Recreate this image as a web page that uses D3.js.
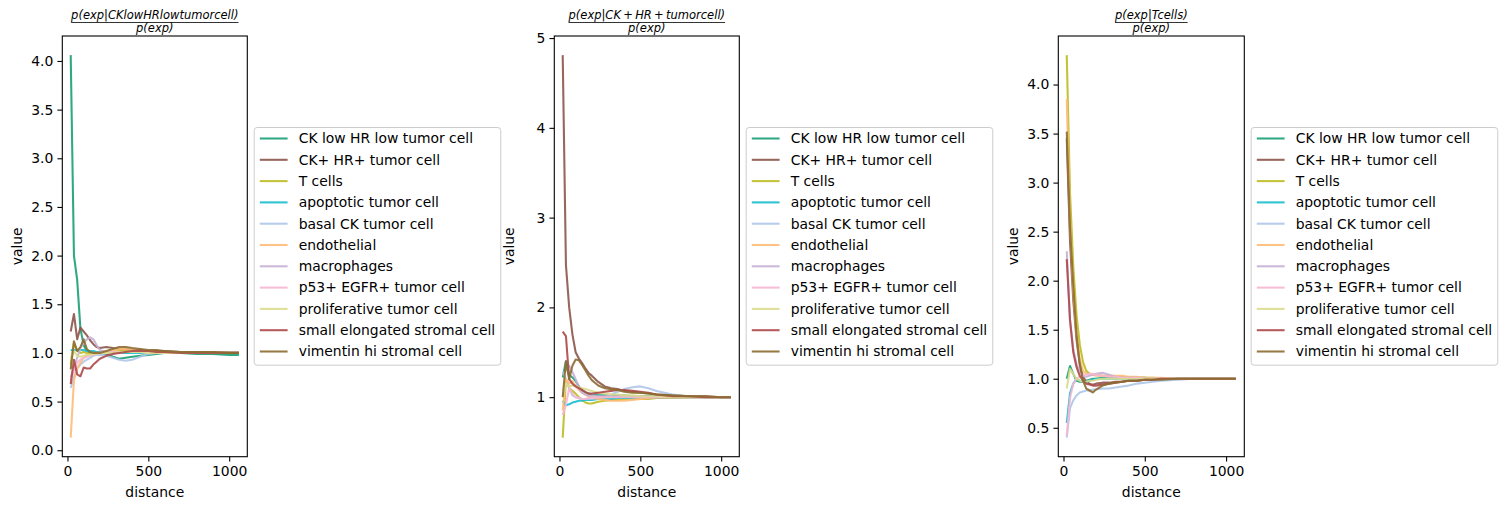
<!DOCTYPE html>
<html>
<head>
<meta charset="utf-8">
<script src="https://cdn.jsdelivr.net/npm/d3@7"></script>
<style>
  body { margin: 0; background: #fff; }
  svg { display: block; font-family: "DejaVu Sans", sans-serif; }
</style>
</head>
<body>
<svg id="chart" width="1511" height="511"></svg>
<script>
// distances shared by every curve
const distances = [20, 40, 60, 80, 100, 120, 140, 160, 180, 200, 240, 280, 320, 360, 400, 450, 500, 550, 600, 700, 800, 900, 1000, 1060];

const cellTypes = ['CK low HR low tumor cell', 'CK+ HR+ tumor cell', 'T cells', 'apoptotic tumor cell',
  'basal CK tumor cell', 'endothelial', 'macrophages', 'p53+ EGFR+ tumor cell',
  'proliferative tumor cell', 'small elongated stromal cell', 'vimentin hi stromal cell'];
const cellColors = ['#1b9e77', '#8c564b', '#bcbd22', '#17becf', '#aec7e8', '#ffbb78',
  '#c5b0d5', '#f7b6d2', '#dbdb8d', '#ad494a', '#8c6d31'];

// panel 1: p(exp | CK low HR low tumor cell) / p(exp)
const ckLowValues = [
  [4.06, 2.00, 1.75, 1.25, 1.08, 1.02, 1.00, 0.99, 1.00, 1.00, 0.99, 0.96, 0.94, 0.95, 0.96, 0.97, 0.98, 0.99, 1.00, 1.00, 0.99, 0.99, 0.98, 0.98],
  [1.22, 1.40, 1.14, 1.26, 1.22, 1.18, 1.13, 1.09, 1.06, 1.05, 1.06, 1.05, 1.04, 1.04, 1.03, 1.03, 1.02, 1.02, 1.02, 1.01, 1.01, 1.01, 1.00, 1.00],
  [0.88, 1.10, 1.02, 1.00, 1.01, 1.00, 0.99, 0.99, 1.00, 1.00, 1.01, 1.01, 1.02, 1.02, 1.02, 1.01, 1.01, 1.01, 1.00, 1.00, 1.00, 1.00, 1.00, 1.00],
  [1.03, 1.03, 1.03, 1.03, 1.03, 1.02, 1.02, 1.02, 1.01, 1.01, 1.00, 1.00, 1.00, 1.00, 1.00, 1.00, 1.00, 1.00, 1.00, 1.00, 1.00, 1.00, 1.00, 1.00],
  [0.64, 0.75, 0.84, 0.88, 0.91, 0.93, 0.95, 0.97, 0.98, 0.98, 0.97, 0.95, 0.93, 0.92, 0.93, 0.96, 0.99, 1.00, 1.00, 1.00, 1.00, 1.00, 1.00, 1.00],
  [0.13, 0.72, 0.84, 0.90, 0.95, 0.97, 0.98, 0.99, 1.00, 1.00, 1.01, 1.02, 1.04, 1.04, 1.03, 1.02, 1.02, 1.01, 1.01, 1.00, 1.00, 1.00, 1.00, 1.00],
  [0.75, 0.85, 0.95, 1.05, 1.10, 1.14, 1.16, 1.14, 1.08, 1.03, 1.01, 1.00, 1.00, 1.01, 1.01, 1.01, 1.01, 1.00, 1.00, 1.00, 1.00, 1.00, 1.00, 1.00],
  [0.72, 0.82, 0.90, 0.93, 0.95, 0.96, 0.97, 0.98, 0.99, 1.00, 1.00, 1.01, 1.01, 1.01, 1.01, 1.01, 1.00, 1.00, 1.00, 1.00, 1.00, 1.00, 1.00, 1.00],
  [0.95, 1.02, 0.97, 0.96, 0.97, 0.98, 0.98, 0.99, 0.99, 1.00, 1.00, 1.00, 1.01, 1.01, 1.01, 1.01, 1.00, 1.00, 1.00, 1.00, 1.00, 1.00, 1.00, 1.00],
  [0.68, 0.93, 0.78, 0.76, 0.85, 0.84, 0.84, 0.88, 0.91, 0.94, 0.97, 0.99, 1.00, 1.01, 1.02, 1.02, 1.02, 1.01, 1.01, 1.00, 1.00, 1.00, 1.00, 1.00],
  [0.83, 1.12, 1.02, 1.06, 1.14, 1.04, 1.01, 1.00, 1.00, 1.00, 1.02, 1.04, 1.06, 1.06, 1.05, 1.04, 1.03, 1.03, 1.02, 1.01, 1.01, 1.01, 1.00, 1.00]
];

// panel 2: p(exp | CK+ HR+ tumor cell) / p(exp)
const ckHrValues = [
  [1.22, 1.40, 1.25, 1.22, 1.18, 1.12, 1.07, 1.05, 1.04, 1.03, 1.02, 1.02, 1.02, 1.02, 1.02, 1.01, 1.01, 1.01, 1.01, 1.00, 1.00, 1.00, 1.00, 1.00],
  [4.81, 2.47, 2.00, 1.70, 1.50, 1.43, 1.38, 1.32, 1.27, 1.24, 1.17, 1.12, 1.10, 1.09, 1.07, 1.06, 1.05, 1.04, 1.03, 1.02, 1.01, 1.01, 1.00, 1.00],
  [0.55, 1.20, 1.10, 1.07, 1.04, 1.00, 0.97, 0.94, 0.93, 0.93, 0.95, 0.96, 0.97, 0.97, 0.98, 0.98, 0.98, 0.98, 0.99, 0.99, 1.00, 1.00, 1.00, 1.00],
  [0.96, 0.91, 0.92, 0.94, 0.95, 0.96, 0.96, 0.97, 0.97, 0.97, 0.98, 0.98, 0.98, 0.99, 0.99, 0.99, 1.00, 1.00, 1.00, 1.00, 1.00, 1.00, 1.00, 1.00],
  [1.28, 1.20, 1.10, 1.02, 1.00, 0.99, 0.98, 0.98, 0.98, 0.98, 0.99, 1.00, 1.03, 1.06, 1.09, 1.11, 1.12, 1.10, 1.07, 1.03, 1.01, 1.00, 1.00, 1.00],
  [0.85, 1.20, 1.15, 1.18, 1.12, 1.08, 1.05, 1.03, 1.01, 1.00, 0.98, 0.97, 0.96, 0.96, 0.96, 0.97, 0.98, 0.99, 1.00, 1.00, 1.00, 1.00, 1.00, 1.00],
  [1.25, 1.30, 1.35, 1.28, 1.20, 1.10, 1.05, 1.03, 1.02, 1.02, 1.01, 1.01, 1.01, 1.01, 1.01, 1.01, 1.01, 1.00, 1.00, 1.00, 1.00, 1.00, 1.00, 1.00],
  [0.80, 0.92, 1.10, 1.04, 1.00, 0.99, 0.98, 0.98, 0.99, 0.99, 1.00, 1.00, 1.00, 1.00, 1.00, 1.00, 1.00, 1.00, 1.00, 1.00, 1.00, 1.00, 1.00, 1.00],
  [1.00, 1.15, 1.12, 1.13, 1.12, 1.11, 1.10, 1.09, 1.08, 1.07, 1.05, 1.04, 1.03, 1.03, 1.02, 1.02, 1.01, 1.01, 1.01, 1.00, 1.00, 1.00, 1.00, 1.00],
  [1.73, 1.68, 1.20, 1.15, 1.12, 1.10, 1.08, 1.06, 1.04, 1.04, 1.05, 1.06, 1.07, 1.08, 1.08, 1.07, 1.06, 1.05, 1.03, 1.01, 1.01, 1.00, 1.00, 1.00],
  [1.00, 1.40, 1.20, 1.35, 1.42, 1.41, 1.36, 1.30, 1.24, 1.19, 1.13, 1.10, 1.09, 1.08, 1.06, 1.05, 1.05, 1.04, 1.03, 1.02, 1.01, 1.01, 1.00, 1.00]
];

// panel 3: p(exp | T cells) / p(exp)
const tCellValues = [
  [1.00, 1.13, 1.05, 0.98, 0.97, 0.97, 0.98, 0.99, 1.00, 1.00, 1.01, 1.01, 1.01, 1.01, 1.01, 1.01, 1.01, 1.00, 1.00, 1.00, 1.00, 1.00, 1.00, 1.00],
  [3.45, 2.40, 1.80, 1.40, 1.15, 1.02, 0.97, 0.95, 0.94, 0.95, 0.96, 0.96, 0.97, 0.97, 0.98, 0.98, 0.99, 0.99, 0.99, 1.00, 1.00, 1.00, 1.00, 1.00],
  [4.30, 2.90, 2.15, 1.65, 1.35, 1.17, 1.08, 1.05, 1.04, 1.04, 1.03, 1.03, 1.02, 1.02, 1.01, 1.01, 1.01, 1.01, 1.00, 1.00, 1.00, 1.00, 1.00, 1.00],
  [0.55, 0.85, 0.95, 1.00, 0.98, 0.97, 0.97, 0.98, 0.99, 1.00, 1.00, 1.00, 1.00, 1.00, 1.00, 1.00, 1.00, 1.00, 1.00, 1.00, 1.00, 1.00, 1.00, 1.00],
  [0.40, 0.70, 0.78, 0.83, 0.86, 0.87, 0.88, 0.88, 0.89, 0.89, 0.90, 0.90, 0.91, 0.92, 0.93, 0.95, 0.96, 0.97, 0.98, 0.99, 1.00, 1.00, 1.00, 1.00],
  [3.85, 2.60, 1.90, 1.45, 1.20, 1.08, 1.05, 1.04, 1.04, 1.03, 1.03, 1.03, 1.03, 1.03, 1.02, 1.02, 1.01, 1.01, 1.01, 1.00, 1.00, 1.00, 1.00, 1.00],
  [2.30, 1.60, 1.30, 1.15, 1.08, 1.03, 1.02, 1.03, 1.04, 1.05, 1.06, 1.04, 1.02, 1.01, 1.01, 1.01, 1.00, 1.00, 1.00, 1.00, 1.00, 1.00, 1.00, 1.00],
  [0.42, 0.80, 0.95, 1.00, 1.02, 1.03, 1.04, 1.05, 1.05, 1.04, 1.03, 1.02, 1.02, 1.01, 1.01, 1.01, 1.00, 1.00, 1.00, 1.00, 1.00, 1.00, 1.00, 1.00],
  [0.90, 1.10, 1.05, 1.00, 0.98, 0.97, 0.97, 0.98, 0.98, 0.99, 1.00, 1.00, 1.00, 1.00, 1.00, 1.00, 1.00, 1.00, 1.00, 1.00, 1.00, 1.00, 1.00, 1.00],
  [2.22, 1.60, 1.27, 1.12, 1.03, 0.98, 0.95, 0.94, 0.93, 0.93, 0.94, 0.95, 0.96, 0.97, 0.98, 0.98, 0.99, 0.99, 1.00, 1.00, 1.00, 1.00, 1.00, 1.00],
  [3.52, 2.55, 1.95, 1.45, 1.15, 0.98, 0.90, 0.88, 0.86, 0.89, 0.93, 0.95, 0.96, 0.97, 0.98, 0.98, 0.99, 0.99, 0.99, 1.00, 1.00, 1.00, 1.00, 1.00]
];

const xTicks = [0, 500, 1000];
const yTicks1 = [0, 0.5, 1, 1.5, 2, 2.5, 3, 3.5, 4];
const yTicks2 = [1, 2, 3, 4, 5];
const yTicks3 = [0.5, 1, 1.5, 2, 2.5, 3, 3.5, 4];

const panels = [
  { num: 'p(exp|CKlowHRlowtumorcell)', values: ckLowValues, yTicks: yTicks1, fmt: '.1f', left: 62.3, right: 247.3 },
  { num: 'p(exp|CK\u2009+\u2009HR\u2009+\u2009tumorcell)', values: ckHrValues, yTicks: yTicks2, fmt: 'd', left: 554.3, right: 739.3 },
  { num: 'p(exp|Tcells)', values: tCellValues, yTicks: yTicks3, fmt: '.1f', left: 1058.3, right: 1244.3 }
];

const plotTop = 36, plotBottom = 456.7;
const fs = 13.9;
const svg = d3.select('#chart');

function pad(ext) {
  const d = (ext[1] - ext[0]) * 0.05;
  return [ext[0] - d, ext[1] + d];
}

panels.forEach(p => {
  const x = d3.scaleLinear().domain(pad(d3.extent(distances))).range([p.left, p.right]);
  const allVals = p.values.flat();
  const y = d3.scaleLinear().domain(pad(d3.extent(allVals))).range([plotBottom, plotTop]);

  const g = svg.append('g');

  // lines
  const line = d3.line().x((d, i) => x(distances[i])).y(d => y(d));
  g.append('g').selectAll('path')
    .data(p.values)
    .enter()
    .append('path')
    .attr('d', line)
    .attr('fill', 'none')
    .attr('stroke', (d, i) => cellColors[i])
    .attr('stroke-width', 2.08)
    .attr('stroke-opacity', 0.9)
    .attr('stroke-linejoin', 'round');

  // axes
  const xAxis = d3.axisBottom(x).tickValues(xTicks).tickSize(4.86).tickPadding(4.2).tickFormat(d3.format('d'));
  const yAxis = d3.axisLeft(y).tickValues(p.yTicks).tickSize(4.86).tickPadding(4.2).tickFormat(d3.format(p.fmt));
  const gx = g.append('g').attr('transform', `translate(0,${plotBottom})`).call(xAxis);
  const gy = g.append('g').attr('transform', `translate(${p.left},0)`).call(yAxis);
  [gx, gy].forEach(a => {
    a.select('.domain').remove();
    a.selectAll('line').attr('stroke', '#000').attr('stroke-width', 1.1);
    a.selectAll('text').attr('font-size', fs).attr('fill', '#000').attr('font-family', '"DejaVu Sans", sans-serif');
  });

  // frame
  g.append('rect')
    .attr('x', p.left).attr('y', plotTop)
    .attr('width', p.right - p.left).attr('height', plotBottom - plotTop)
    .attr('fill', 'none').attr('stroke', '#000').attr('stroke-width', 1.1);

  // labels
  const cx = (p.left + p.right) / 2;
  g.append('text').attr('x', cx).attr('y', 497).attr('text-anchor', 'middle')
    .attr('font-size', fs).text('distance');
  g.append('text')
    .attr('transform', `translate(${p.left - 45},${(plotTop + plotBottom) / 2}) rotate(-90)`)
    .attr('text-anchor', 'middle').attr('dy', '0.35em')
    .attr('font-size', fs).text('value');

  // fraction title
  const numText = g.append('text').attr('x', cx).attr('y', 18.5).attr('text-anchor', 'middle')
    .attr('font-size', 11.5).attr('font-style', 'italic').text(p.num);
  const w = numText.node().getComputedTextLength();
  g.append('line').attr('x1', cx - w / 2).attr('x2', cx + w / 2).attr('y1', 22.5).attr('y2', 22.5)
    .attr('stroke', '#000').attr('stroke-width', 0.8);
  g.append('text').attr('x', cx).attr('y', 32).attr('text-anchor', 'middle')
    .attr('font-size', 11.5).attr('font-style', 'italic').text('p(exp)');

  // legend
  const lx = p.right + 6.9;
  const rowH = 21.3;
  const legH = 237.7;
  const ly = (plotTop + plotBottom) / 2 - legH / 2;
  const leg = g.append('g');
  const box = leg.append('rect');
  let maxW = 0;
  cellTypes.forEach((name, i) => {
    const cy = ly + 11 + i * rowH;
    leg.append('line').attr('x1', lx + 5.6).attr('x2', lx + 33.4).attr('y1', cy).attr('y2', cy)
      .attr('stroke', cellColors[i]).attr('stroke-width', 2.08).attr('stroke-opacity', 0.9);
    const t = leg.append('text').attr('x', lx + 44.5).attr('y', cy).attr('dy', '0.35em')
      .attr('font-size', fs).text(name);
    maxW = Math.max(maxW, t.node().getComputedTextLength());
  });
  box.attr('x', lx).attr('y', ly).attr('width', 44.5 + maxW + 5.6).attr('height', legH)
    .attr('rx', 3).attr('fill', '#fff').attr('fill-opacity', 0.8)
    .attr('stroke', '#cccccc').attr('stroke-width', 1);
});
</script>
</body>
</html>
